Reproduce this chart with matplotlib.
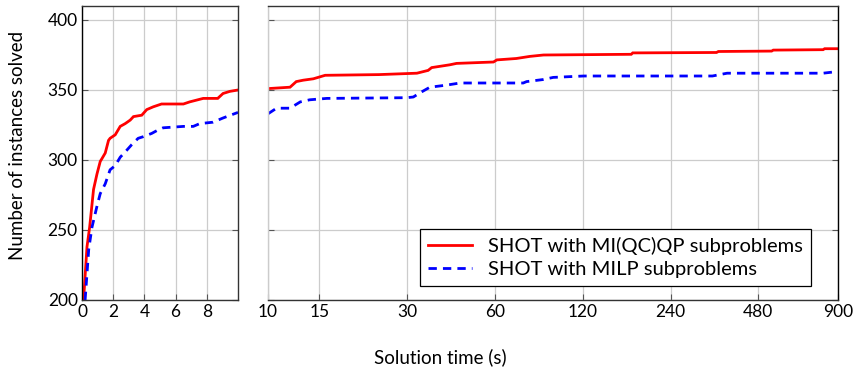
import matplotlib
matplotlib.use("Agg")
import matplotlib.pyplot as plt
from matplotlib.ticker import FixedLocator, FixedFormatter, NullLocator

plt.rcParams['font.family'] = ['Lato', 'DejaVu Sans']

# left panel (0-10 s, linear)
red_left_x = [0.1, 0.32, 0.49, 0.74, 0.96, 1.17, 1.28, 1.49, 1.7, 1.8, 2.13, 2.45, 2.77,
              3.09, 3.3, 3.83, 4.15, 4.57, 5.1, 6.5, 6.9, 7.77, 8.7, 9.04, 9.47, 10]
red_left_y = [200, 238, 252, 279, 290, 299, 301, 305, 314, 315.5, 318, 324, 326,
              328.5, 331, 332, 336, 338, 340, 340, 341.5, 344, 344, 347.5, 349, 350]
blue_left_x = [0.2, 0.43, 0.64, 0.96, 1.17, 1.49, 1.8, 2.13, 2.45, 2.87, 3.19, 3.6, 3.94,
               4.47, 4.8, 5.2, 6.5, 7.13, 7.55, 8.4, 9.04, 10]
blue_left_y = [200, 236, 252, 267, 276, 283, 293, 296, 302, 307, 311, 315.5, 316.7,
               319, 321, 323, 324, 324, 326, 327, 330, 334]

# right panel (10-900 s, log)
red_right_x = [10, 11.9, 12.5, 13.2, 14.3, 15.7, 24, 32.4, 35.4, 36.4, 42, 44.3, 59.3,
               60.9, 71, 79, 88, 176, 178, 345, 350, 533, 540, 800, 810, 900]
red_right_y = [351, 352, 356, 357, 358, 360.5, 361, 362, 364, 366, 368, 369, 370,
               371.5, 372.5, 374, 375, 375.5, 376.5, 376.8, 377.5, 377.8, 378.5, 378.8, 379.5, 379.5]
blue_right_x = [10, 10.7, 11.9, 12.9, 13.9, 15.9, 29.9, 31.5, 33.2, 35.9, 41, 45.5, 75,
                77, 88, 95, 121, 334, 375, 800, 880, 900]
blue_right_y = [333, 337, 337, 341.5, 343, 344, 344.5, 345, 348, 352, 353.5, 355, 355,
                356, 357.5, 359, 360, 360, 362, 362, 363, 363]

left_ticks = [0, 2, 4, 6, 8]
right_ticks = [10, 15, 30, 60, 120, 240, 480, 900]
y_ticks = [200, 250, 300, 350, 400]

labels = ["SHOT with MI(QC)QP subproblems", "SHOT with MILP subproblems"]

W, H = 856, 374
fig = plt.figure(figsize=(W / 100, H / 100), dpi=100)

axl = fig.add_axes([82 / W, 74 / H, 156 / W, 294 / H])
axr = fig.add_axes([268 / W, 74 / H, 570 / W, 294 / H])

red_kw = dict(color='#ff0000', lw=2.0, solid_joinstyle='miter')
blue_kw = dict(color='#0000ff', lw=2.0, linestyle=(0, (3, 2.2)))

axl.plot(red_left_x, red_left_y, **red_kw)
axl.plot(blue_left_x, blue_left_y, **blue_kw)
axr.plot(red_right_x, red_right_y, label=labels[0], **red_kw)
axr.plot(blue_right_x, blue_right_y, label=labels[1], **blue_kw)

axl.set_xlim(0, 10)
axl.set_xticks(left_ticks)
axr.set_xscale('log')
axr.set_xlim(10, 900)
axr.xaxis.set_major_locator(FixedLocator(right_ticks))
axr.xaxis.set_major_formatter(FixedFormatter([str(t) for t in right_ticks]))
axr.xaxis.set_minor_locator(NullLocator())

for ax in (axl, axr):
    ax.set_ylim(200, 410)
    ax.set_yticks(y_ticks)
    ax.grid(True, color='#cccccc', lw=0.9)
    ax.set_axisbelow(True)
    ax.tick_params(direction='in', length=4, width=0.8, color='#555555',
                   labelsize=12.5, pad=3, right=True)
    for s in ax.spines.values():
        s.set_color('#333333')
        s.set_linewidth(1.0)

axr.tick_params(labelleft=False)
axr.spines['left'].set_color('#cccccc')
axr.spines['right'].set_color('black')
axl.spines['left'].set_color('black')

fig.text(18 / W, 1 - 145 / H, "Number of instances solved", rotation=90,
         ha='center', va='center', fontsize=13.5)
fig.text(440 / W, 1 - 357 / H, "Solution time (s)", ha='center', va='center',
         fontsize=13.5)

leg = axr.legend(loc='lower right', bbox_to_anchor=(811 / W, 1 - 286 / H),
                 bbox_transform=fig.transFigure, borderaxespad=0, fancybox=False,
                 edgecolor='black', framealpha=1, fontsize=14.5, handlelength=2.2,
                 labelspacing=0.3, borderpad=0.4)
leg.get_frame().set_linewidth(0.9)

fig.savefig("out.png", dpi=100)
